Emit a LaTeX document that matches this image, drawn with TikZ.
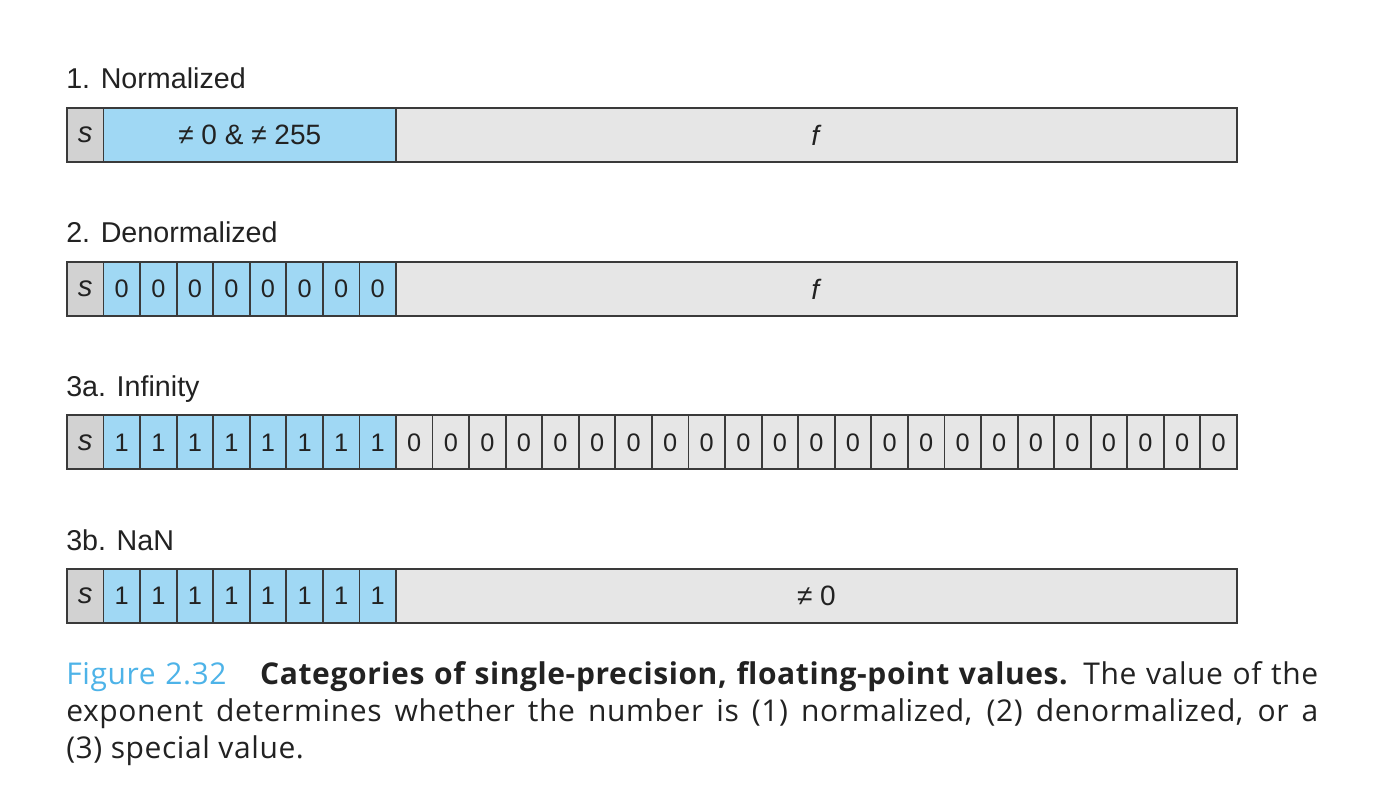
\documentclass[tikz,border=0pt]{standalone}
\usepackage{fontspec}
\setmainfont{Liberation Sans}
\newfontfamily\capfont[LetterSpace=2.0]{Open Sans}
\definecolor{sgray}{HTML}{D2D2D2}
\definecolor{eblue}{HTML}{A0D8F4}
\definecolor{fgray}{HTML}{E6E6E6}
\definecolor{bord}{HTML}{3A3A3A}
\definecolor{figblue}{HTML}{4DB3E8}
\definecolor{txt}{HTML}{222222}
\newcommand{\neqsym}{≠}
\begin{document}
\begin{tikzpicture}[x=0.75pt,y=-0.75pt,
  cellbase/.style={draw=bord,line width=1.4pt,inner sep=0pt,anchor=north west,
    minimum height=40.5pt,text=txt,font=\fontsize{19}{19}\selectfont},
  sbox/.style={cellbase,fill=sgray,minimum width=27.42pt,font=\fontsize{22}{22}\selectfont\itshape},
  ebox/.style={cellbase,fill=eblue,minimum width=27.42pt},
  fbox/.style={cellbase,fill=fgray,minimum width=27.42pt},
  ewide/.style={cellbase,fill=eblue,minimum width=219.375pt,font=\fontsize{21}{21}\selectfont},
  fwide/.style={cellbase,fill=fgray,minimum width=630.56pt,font=\fontsize{21}{21}\selectfont},
  rowlabel/.style={anchor=base west,inner sep=0pt,text=txt,font=\fontsize{21.5}{21.5}\selectfont},
  caption/.style={anchor=north west,inner sep=0pt,text width=939pt,align=justify,
    text=txt,font=\capfont\fontsize{22.5}{28}\selectfont}]
\useasboundingbox (0,0) rectangle (1374,812);
\fill[white] (0,0) rectangle (1374,812);
\def\w{36.5625}
% Row labels
\node[rowlabel] (l1) at (66,89) {1. Normalized};
\node[rowlabel] (l2) at (66,243) {2. Denormalized};
\node[rowlabel] (l3) at (66,397) {3a. Infinity};
\node[rowlabel] (l4) at (66,550) {3b. NaN};
% Row 1
\node[sbox] (s1) at (66,107) {s};
\node[ewide] (e1) at (66+\w,107) {\neqsym\ 0 \& \neqsym\ 255};
\node[fwide] (f1) at (66+9*\w,107) {\textit{f}};
% Row 2
\node[sbox] (s2) at (66,261) {s};
\foreach \i in {1,...,8} \node[ebox] (e2-\i) at ({66+\i*\w},261) {0};
\node[fwide] (f2) at (66+9*\w,261) {\textit{f}};
% Row 3
\node[sbox] (s3) at (66,414.5) {s};
\foreach \i in {1,...,8} \node[ebox] (e3-\i) at ({66+\i*\w},414.5) {1};
\foreach \i in {9,...,31} \node[fbox] (f3-\i) at ({66+\i*\w},414.5) {0};
% Row 4
\node[sbox] (s4) at (66,568) {s};
\foreach \i in {1,...,8} \node[ebox] (e4-\i) at ({66+\i*\w},568) {1};
\node[fwide] (f4) at (66+9*\w,568) {\neqsym\ 0};
% Caption
\node[caption] (cap) at (66,661) {\textcolor{figblue}{Figure 2.32}\hspace{0.8em} \textbf{Categories of single-precision, floating-point values.} The value of the\linebreak exponent determines whether the number is (1) normalized, (2) denormalized, or a\linebreak (3) special value.};
\end{tikzpicture}
\end{document}
